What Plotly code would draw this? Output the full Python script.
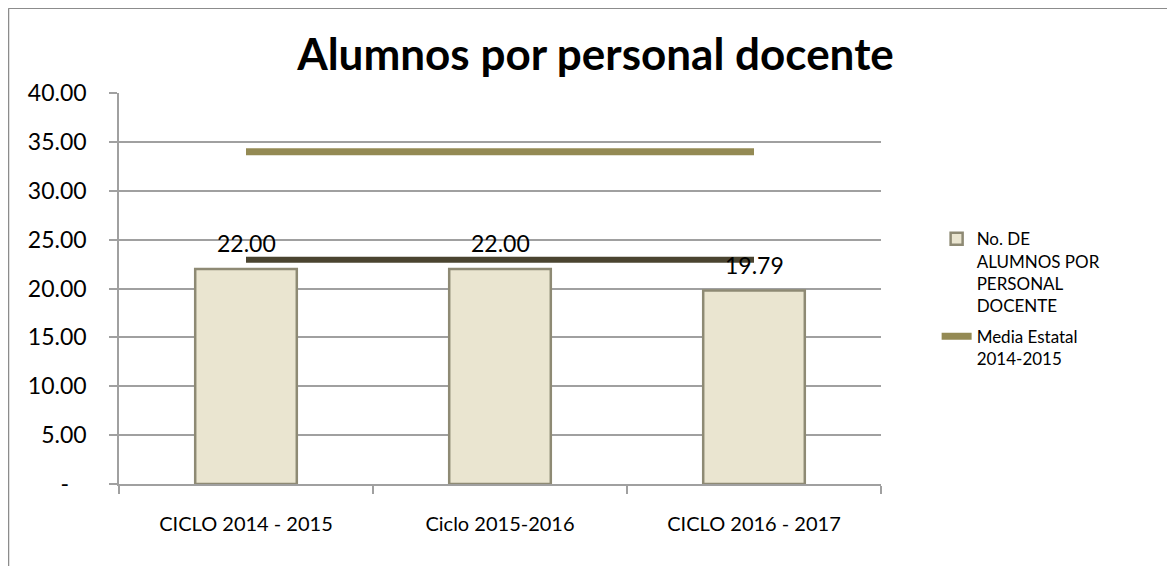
import plotly.graph_objects as go

# datos
ciclos = ['CICLO 2014 - 2015', 'Ciclo 2015-2016', 'CICLO 2016 - 2017']
alumnos_por_docente = [22.00, 22.00, 19.79]
media_estatal = [34.0, 34.0, 34.0]
media_otra = [22.93, 22.93, 22.93]
etiquetas = ['22.00', '22.00', '19.79']

y_ticks = [0, 5, 10, 15, 20, 25, 30, 35, 40]
y_ticktext = ['-\u00a0\u00a0\u00a0', '5.00', '10.00', '15.00', '20.00',
              '25.00', '30.00', '35.00', '40.00']

fuente = 'Lato'

fig = go.Figure()

fig.add_trace(go.Bar(
    x=ciclos, y=alumnos_por_docente,
    name='No. DE<br>ALUMNOS POR<br>PERSONAL<br>DOCENTE',
    legendgroup='barras',
    width=0.4,
    marker=dict(color='#EAE5D0', line=dict(color='#8E8A74', width=2.5)),
))

fig.add_trace(go.Scatter(
    x=ciclos, y=media_estatal, mode='lines',
    name='Media Estatal<br>2014-2015',
    legendgroup='media',
    line=dict(color='#948A54', width=7),
))

fig.add_trace(go.Scatter(
    x=ciclos, y=media_otra, mode='lines',
    showlegend=False,
    line=dict(color='#4A4430', width=6),
))

# etiquetas de datos sobre las barras
for c, v, t in zip(ciclos, alumnos_por_docente, etiquetas):
    fig.add_annotation(x=c, y=v, text=t, showarrow=False, yshift=26,
                       font=dict(family=fuente, size=23, color='black'))

fig.update_layout(
    width=1175, height=566,
    margin=dict(l=111, r=302, t=85, b=90),
    paper_bgcolor='white', plot_bgcolor='white',
    font=dict(family=fuente, size=18, color='black'),
    title=dict(text='<b>Alumnos por personal docente</b>',
               x=0.5, xref='container', xanchor='center',
               y=0.917, yanchor='middle',
               font=dict(family=fuente, size=44, color='black')),
    showlegend=True,
    legend=dict(x=1.073, xanchor='left', y=0.672, yanchor='top',
                valign='top', traceorder='grouped', tracegroupgap=6,
                font=dict(family=fuente, size=17, color='black'),
                bgcolor='rgba(0,0,0,0)'),
    bargap=0.6,
)

fig.update_yaxes(
    range=[0, 40], tickvals=y_ticks, ticktext=y_ticktext,
    showgrid=True, gridcolor='#A0A0A0', gridwidth=1.5,
    showline=True, linecolor='#A0A0A0', linewidth=1.5,
    ticks='outside', ticklen=8, tickcolor='#A0A0A0', tickwidth=1.5,
    ticklabelstandoff=18,
    tickfont=dict(family=fuente, size=23, color='black'),
    zeroline=False,
)

fig.update_xaxes(
    showgrid=False,
    showline=True, linecolor='#A0A0A0', linewidth=1.5,
    ticks='outside', ticklen=8, tickcolor='#A0A0A0', tickwidth=1.5,
    tickson='boundaries',
    ticklabelstandoff=21,
    tickfont=dict(family=fuente, size=20, color='black'),
)

# borde del area del grafico
fig.add_shape(type='line', xref='paper', yref='paper',
              x0=-0.145, x1=1.4, y0=1.217, y1=1.217,
              line=dict(color='#8C8C8C', width=1.5))
fig.add_shape(type='line', xref='paper', yref='paper',
              x0=-0.145, x1=-0.145, y0=1.217, y1=-0.3,
              line=dict(color='#8C8C8C', width=1.5))

fig.write_html("out.html")
